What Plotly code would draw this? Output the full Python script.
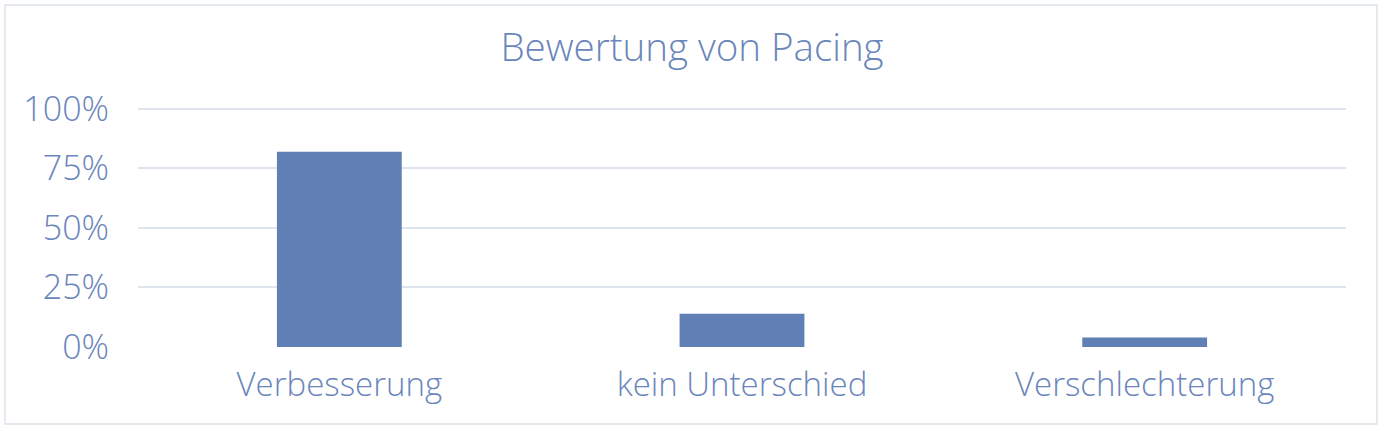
import plotly.graph_objects as go

categories = ["Verbesserung", "kein Unterschied", "Verschlechterung"]
values = [0.82, 0.14, 0.04]
y_ticks = [0, 0.25, 0.5, 0.75, 1.0]
y_tick_labels = ["0%", "25%", "50%", "75%", "100%"]

W, H = 1384, 431
y_top = 1.02
ph = int(round((347 - 109) * y_top))
L, R, B = 138, 38, 84
T = H - B - ph
text_col = "#6a86bb"
bar_col = "#6080b5"
grid_col = "#dfe5ef"

fig = go.Figure(go.Bar(
    x=categories, y=values,
    width=0.31,
    marker=dict(color=bar_col, line=dict(width=0)),
))

pw = W - L - R

def px_x(p):
    return (p - L) / pw

def px_y(p):
    return (H - B - p) / ph

fig.update_layout(
    width=W, height=H,
    margin=dict(l=L, r=R, t=T, b=B),
    paper_bgcolor="white",
    plot_bgcolor="white",
    showlegend=False,
    font=dict(family="Open Sans", color=text_col, weight=300),
    title=dict(text="Bewertung von Pacing", x=0.5, xanchor="center",
               y=1 - 48 / H, yanchor="middle",
               font=dict(size=38.5, color=text_col, weight=300)),
    xaxis=dict(showgrid=False, showline=False, ticks="",
               ticklabelstandoff=15,
               tickfont=dict(size=33, color=text_col, weight=300)),
    yaxis=dict(range=[0, y_top], tickvals=y_ticks, ticktext=y_tick_labels,
               showgrid=True, gridcolor=grid_col, gridwidth=2,
               zeroline=False, showline=False, ticks="",
               ticklabelstandoff=28,
               tickfont=dict(size=34, color=text_col, weight=300)),
    shapes=[dict(type="rect", xref="paper", yref="paper",
                 x0=px_x(5), x1=px_x(1377), y0=px_y(5), y1=px_y(424),
                 line=dict(color="#dde3ec", width=1.5), layer="below")],
)

fig.write_html("out.html", config={"displayModeBar": False},
               post_script="document.body.style.margin='0';")
